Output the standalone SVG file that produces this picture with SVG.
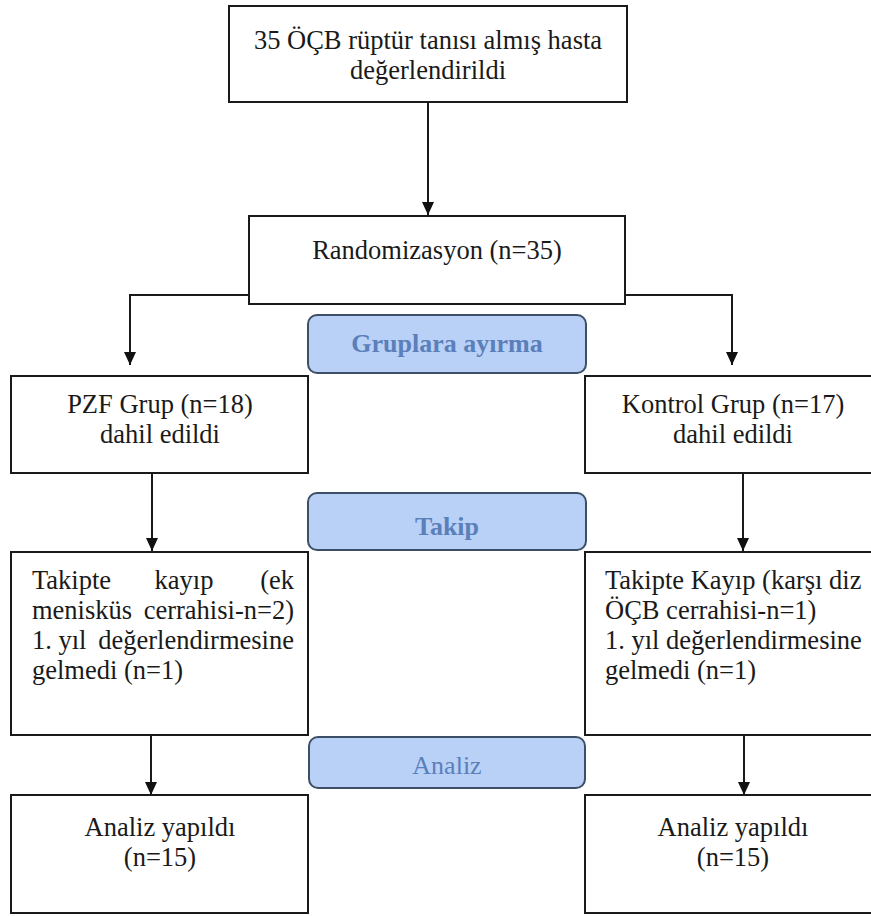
<svg xmlns="http://www.w3.org/2000/svg" width="871" height="916" viewBox="0 0 871 916">
<style>
  .box { fill: #ffffff; stroke: #1a1a1a; stroke-width: 2; }
  .lbl { fill: #b9d0f7; stroke: #3d4f66; stroke-width: 2; }
  .t { font-family: "Times New Roman", "Liberation Serif", Tinos, "DejaVu Serif", serif; font-size: 26.5px; fill: #1a1a1a; }
  .c { text-anchor: middle; }
  .e { text-anchor: end; }
  .lt { font-family: "Times New Roman", "Liberation Serif", Tinos, "DejaVu Serif", serif; font-size: 26px; fill: #5b7fb9; text-anchor: middle; }
  .b { font-weight: bold; }
  .conn path { fill: none; stroke: #1a1a1a; stroke-width: 2; marker-end: url(#arr); }
</style>
<defs>
  <marker id="arr" markerUnits="userSpaceOnUse" markerWidth="14" markerHeight="14" viewBox="0 0 14 14" refX="13" refY="7" orient="auto">
    <path d="M0,1 L13,7 L0,13 Z" fill="#111"/>
  </marker>
</defs>
<rect width="871" height="916" fill="#ffffff"/>

<g id="connectors" class="conn">
  <path d="M428,102 V215"/>
  <path d="M249,295 H130 V365"/>
  <path d="M625,295 H732 V365"/>
  <path d="M152,473 V551"/>
  <path d="M743,473 V551"/>
  <path d="M151,735 V795"/>
  <path d="M744,735 V795"/>
</g>

<g id="n-start">
  <rect class="box" x="229" y="6" width="398" height="96"/>
  <text class="t c" x="428" y="49">35 ÖÇB rüptür tanısı almış hasta</text>
  <text class="t c" x="428" y="79">değerlendirildi</text>
</g>

<g id="n-rand">
  <rect class="box" x="249" y="216" width="376" height="88"/>
  <text class="t c" x="437" y="259">Randomizasyon (n=35)</text>
</g>

<g id="l-gruplara">
  <rect class="lbl" x="308" y="315" width="278" height="58" rx="9"/>
  <text class="lt b" x="447" y="352">Gruplara ayırma</text>
</g>

<g id="n-pzf">
  <rect class="box" x="11" y="376" width="297" height="97"/>
  <text class="t c" x="160" y="413">PZF Grup (n=18)</text>
  <text class="t c" x="160" y="443">dahil edildi</text>
</g>

<g id="n-kontrol">
  <rect class="box" x="585" y="376" width="297" height="97"/>
  <text class="t c" x="733" y="413">Kontrol Grup (n=17)</text>
  <text class="t c" x="733" y="443">dahil edildi</text>
</g>

<g id="l-takip">
  <rect class="lbl" x="308" y="493" width="278" height="57" rx="9"/>
  <text class="lt b" x="447" y="535">Takip</text>
</g>

<g id="n-takip-pzf">
  <rect class="box" x="11" y="552" width="297" height="183"/>
  <text class="t" x="32" y="589">Takipte</text>
  <text class="t c" x="184" y="589">kayıp</text>
  <text class="t e" x="294" y="589">(ek</text>
  <text class="t" x="32" y="619">menisküs</text>
  <text class="t e" x="294" y="619">cerrahisi-n=2)</text>
  <text class="t" x="32" y="649">1. yıl</text>
  <text class="t e" x="294" y="649">değerlendirmesine</text>
  <text class="t" x="32" y="679">gelmedi (n=1)</text>
</g>

<g id="n-takip-kontrol">
  <rect class="box" x="585" y="552" width="297" height="183"/>
  <text class="t" x="605" y="589">Takipte Kayıp (karşı diz</text>
  <text class="t" x="605" y="619">ÖÇB cerrahisi-n=1)</text>
  <text class="t" x="605" y="649">1. yıl değerlendirmesine</text>
  <text class="t" x="605" y="679">gelmedi (n=1)</text>
</g>

<g id="l-analiz">
  <rect class="lbl" x="309" y="737" width="276" height="51" rx="9"/>
  <text class="lt" x="447" y="774">Analiz</text>
</g>

<g id="n-analiz-pzf">
  <rect class="box" x="11" y="795" width="297" height="118"/>
  <text class="t c" x="160" y="836">Analiz yapıldı</text>
  <text class="t c" x="160" y="866">(n=15)</text>
</g>

<g id="n-analiz-kontrol">
  <rect class="box" x="585" y="795" width="297" height="118"/>
  <text class="t c" x="733" y="836">Analiz yapıldı</text>
  <text class="t c" x="733" y="866">(n=15)</text>
</g>
</svg>
